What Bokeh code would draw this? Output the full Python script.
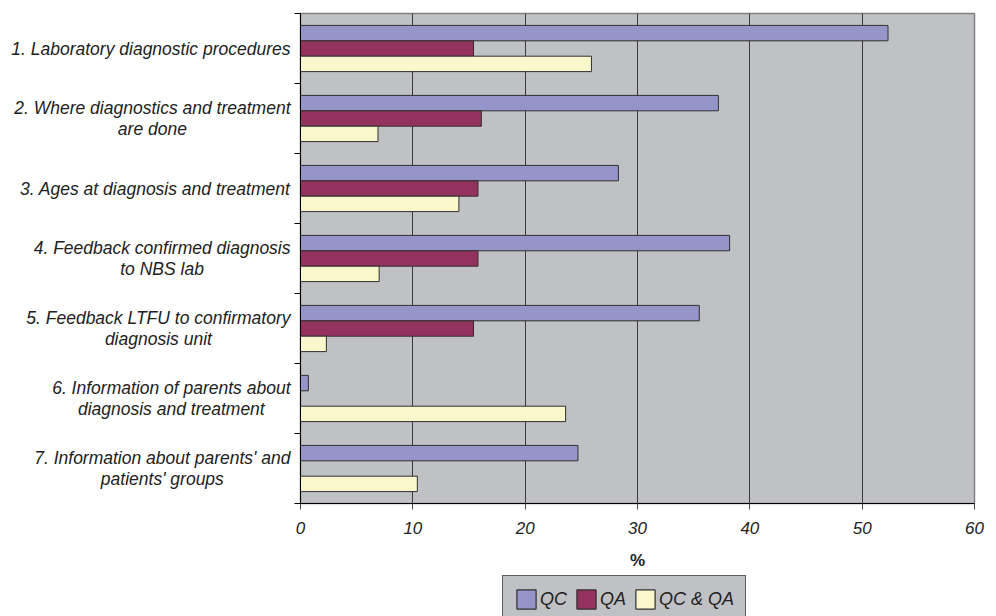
from bokeh.plotting import figure
from bokeh.layouts import column, row
from bokeh.models import Range1d, FixedTicker, Legend, LegendItem, ColumnDataSource
from bokeh.core.properties import value
from bokeh.embed import file_html
from bokeh.resources import INLINE

categories = [
    "1. Laboratory diagnostic procedures",
    "2. Where diagnostics and treatment\nare done",
    "3. Ages at diagnosis and treatment",
    "4. Feedback confirmed diagnosis\nto NBS lab",
    "5. Feedback LTFU to confirmatory\ndiagnosis unit",
    "6. Information of parents about\ndiagnosis and treatment",
    "7. Information about parents' and\npatients' groups",
]
series_names = ["QC", "QA", "QC & QA"]
qc = [52.3, 37.2, 28.3, 38.2, 35.5, 0.7, 24.7]
qa = [15.4, 16.1, 15.8, 15.8, 15.4, 0.0, 0.0]
qc_qa = [25.9, 6.9, 14.1, 7.0, 2.3, 23.6, 10.4]
x_ticks = [0, 10, 20, 30, 40, 50, 60]

FONT = "Liberation Sans"
colors = ["#9595C9", "#93325F", "#FAF7CC"]
BG = "#C0C1C5"
TXT = "#222222"

n = len(categories)
centers = [i + 0.5 for i in range(n)]
bar_h = 0.22
offsets = [-bar_h, 0.0, bar_h]

MAIN_H = 574
TOP = 13
BOTTOM = 71
LABEL_W = 292

y_range = Range1d(n, 0)

# ---- category labels panel (left) ----
lab = figure(width=LABEL_W, height=MAIN_H, output_backend="svg", toolbar_location=None,
             x_range=Range1d(0, LABEL_W), y_range=y_range,
             x_axis_type=None, y_axis_type=None,
             min_border_left=0, min_border_right=0, min_border_top=TOP, min_border_bottom=BOTTOM)
lab.outline_line_color = None
lab.background_fill_color = "white"
lab.grid.grid_line_color = None
lab_src = ColumnDataSource(dict(y=centers, text=categories))
lab.text(x=LABEL_W - 2, y="y", text="text", source=lab_src,
         anchor="center_right", text_align="center", text_baseline="middle",
         text_font=value(FONT), text_font_style="italic", text_font_size="17.5px",
         text_color=TXT, text_line_height=1.08)

# ---- main chart ----
p = figure(width=996 - LABEL_W, height=MAIN_H, output_backend="svg", toolbar_location=None,
           x_range=Range1d(0, 60), y_range=y_range,
           min_border_left=8, min_border_right=22, min_border_top=TOP,
           min_border_bottom=BOTTOM)
p.background_fill_color = BG
p.border_fill_color = "white"
p.outline_line_color = "#808080"
p.outline_line_width = 1.5

sources = []
renderers = []
for vals, off, col in zip([qc, qa, qc_qa], offsets, colors):
    src = ColumnDataSource(dict(y=[c + off for c in centers], right=vals))
    sources.append(src)
    r = p.hbar(y="y", left=0, right="right", height=bar_h, source=src,
               fill_color=col, line_color="#303030", line_width=1)
    renderers.append(r)

p.xaxis.ticker = FixedTicker(ticks=x_ticks)
p.xaxis.major_tick_out = 6
p.xaxis.major_tick_in = 0
p.xaxis.minor_tick_out = 0
p.xaxis.axis_line_color = "black"
p.xaxis.major_tick_line_color = "#444444"
p.xaxis.major_label_text_font = FONT
p.xaxis.major_label_text_font_style = "italic"
p.xaxis.major_label_text_font_size = "17px"
p.xaxis.major_label_text_color = TXT
p.xaxis.major_label_standoff = 12
p.xaxis.axis_label = "%"
p.xaxis.axis_label_text_font = FONT
p.xaxis.axis_label_text_font_style = "bold"
p.xaxis.axis_label_text_font_size = "17px"
p.xaxis.axis_label_text_color = TXT
p.xaxis.axis_label_standoff = 14

# left axis: only the line and boundary ticks
p.yaxis.ticker = FixedTicker(ticks=[], minor_ticks=list(range(n + 1)))
p.yaxis.major_tick_out = 0
p.yaxis.major_tick_in = 0
p.yaxis.minor_tick_out = 6
p.yaxis.minor_tick_in = 0
p.yaxis.minor_tick_line_color = "black"
p.yaxis.axis_line_color = "black"
p.yaxis.major_label_text_font_size = "0px"
p.yaxis.major_label_standoff = 0

p.ygrid.grid_line_color = None
p.xgrid.grid_line_color = "#3A3A3A"
p.xgrid.grid_line_width = 1

# ---- legend strip (bottom); its bars share the series data but lie outside its view ----
leg = figure(width=996, height=616 - MAIN_H, output_backend="svg", toolbar_location=None,
             x_range=Range1d(0, 1), y_range=Range1d(100, 101),
             x_axis_type=None, y_axis_type=None,
             min_border_left=0, min_border_right=0, min_border_top=0, min_border_bottom=0)
leg.outline_line_color = None
leg.grid.grid_line_color = None
leg_renderers = [leg.hbar(y="y", left=0, right="right", height=bar_h, source=s,
                          fill_color=c, line_color="#303030", line_width=1.2)
                 for s, c in zip(sources, colors)]
legend = Legend(items=[LegendItem(label=nm, renderers=[r], index=0)
                       for nm, r in zip(series_names, leg_renderers)],
                orientation="horizontal", location=(502, -7))
legend.background_fill_color = BG
legend.background_fill_alpha = 1
legend.border_line_color = "black"
legend.border_line_width = 1.5
legend.label_text_font = FONT
legend.label_text_font_style = "italic"
legend.label_text_font_size = "18px"
legend.label_text_color = TXT
legend.glyph_width = 24
legend.glyph_height = 24
legend.label_standoff = 2
legend.spacing = 7
legend.padding = 11
legend.margin = 0
leg.add_layout(legend, "center")

layout = column(row(lab, p), leg)
open("out.html", "w").write(file_html(layout, INLINE))
